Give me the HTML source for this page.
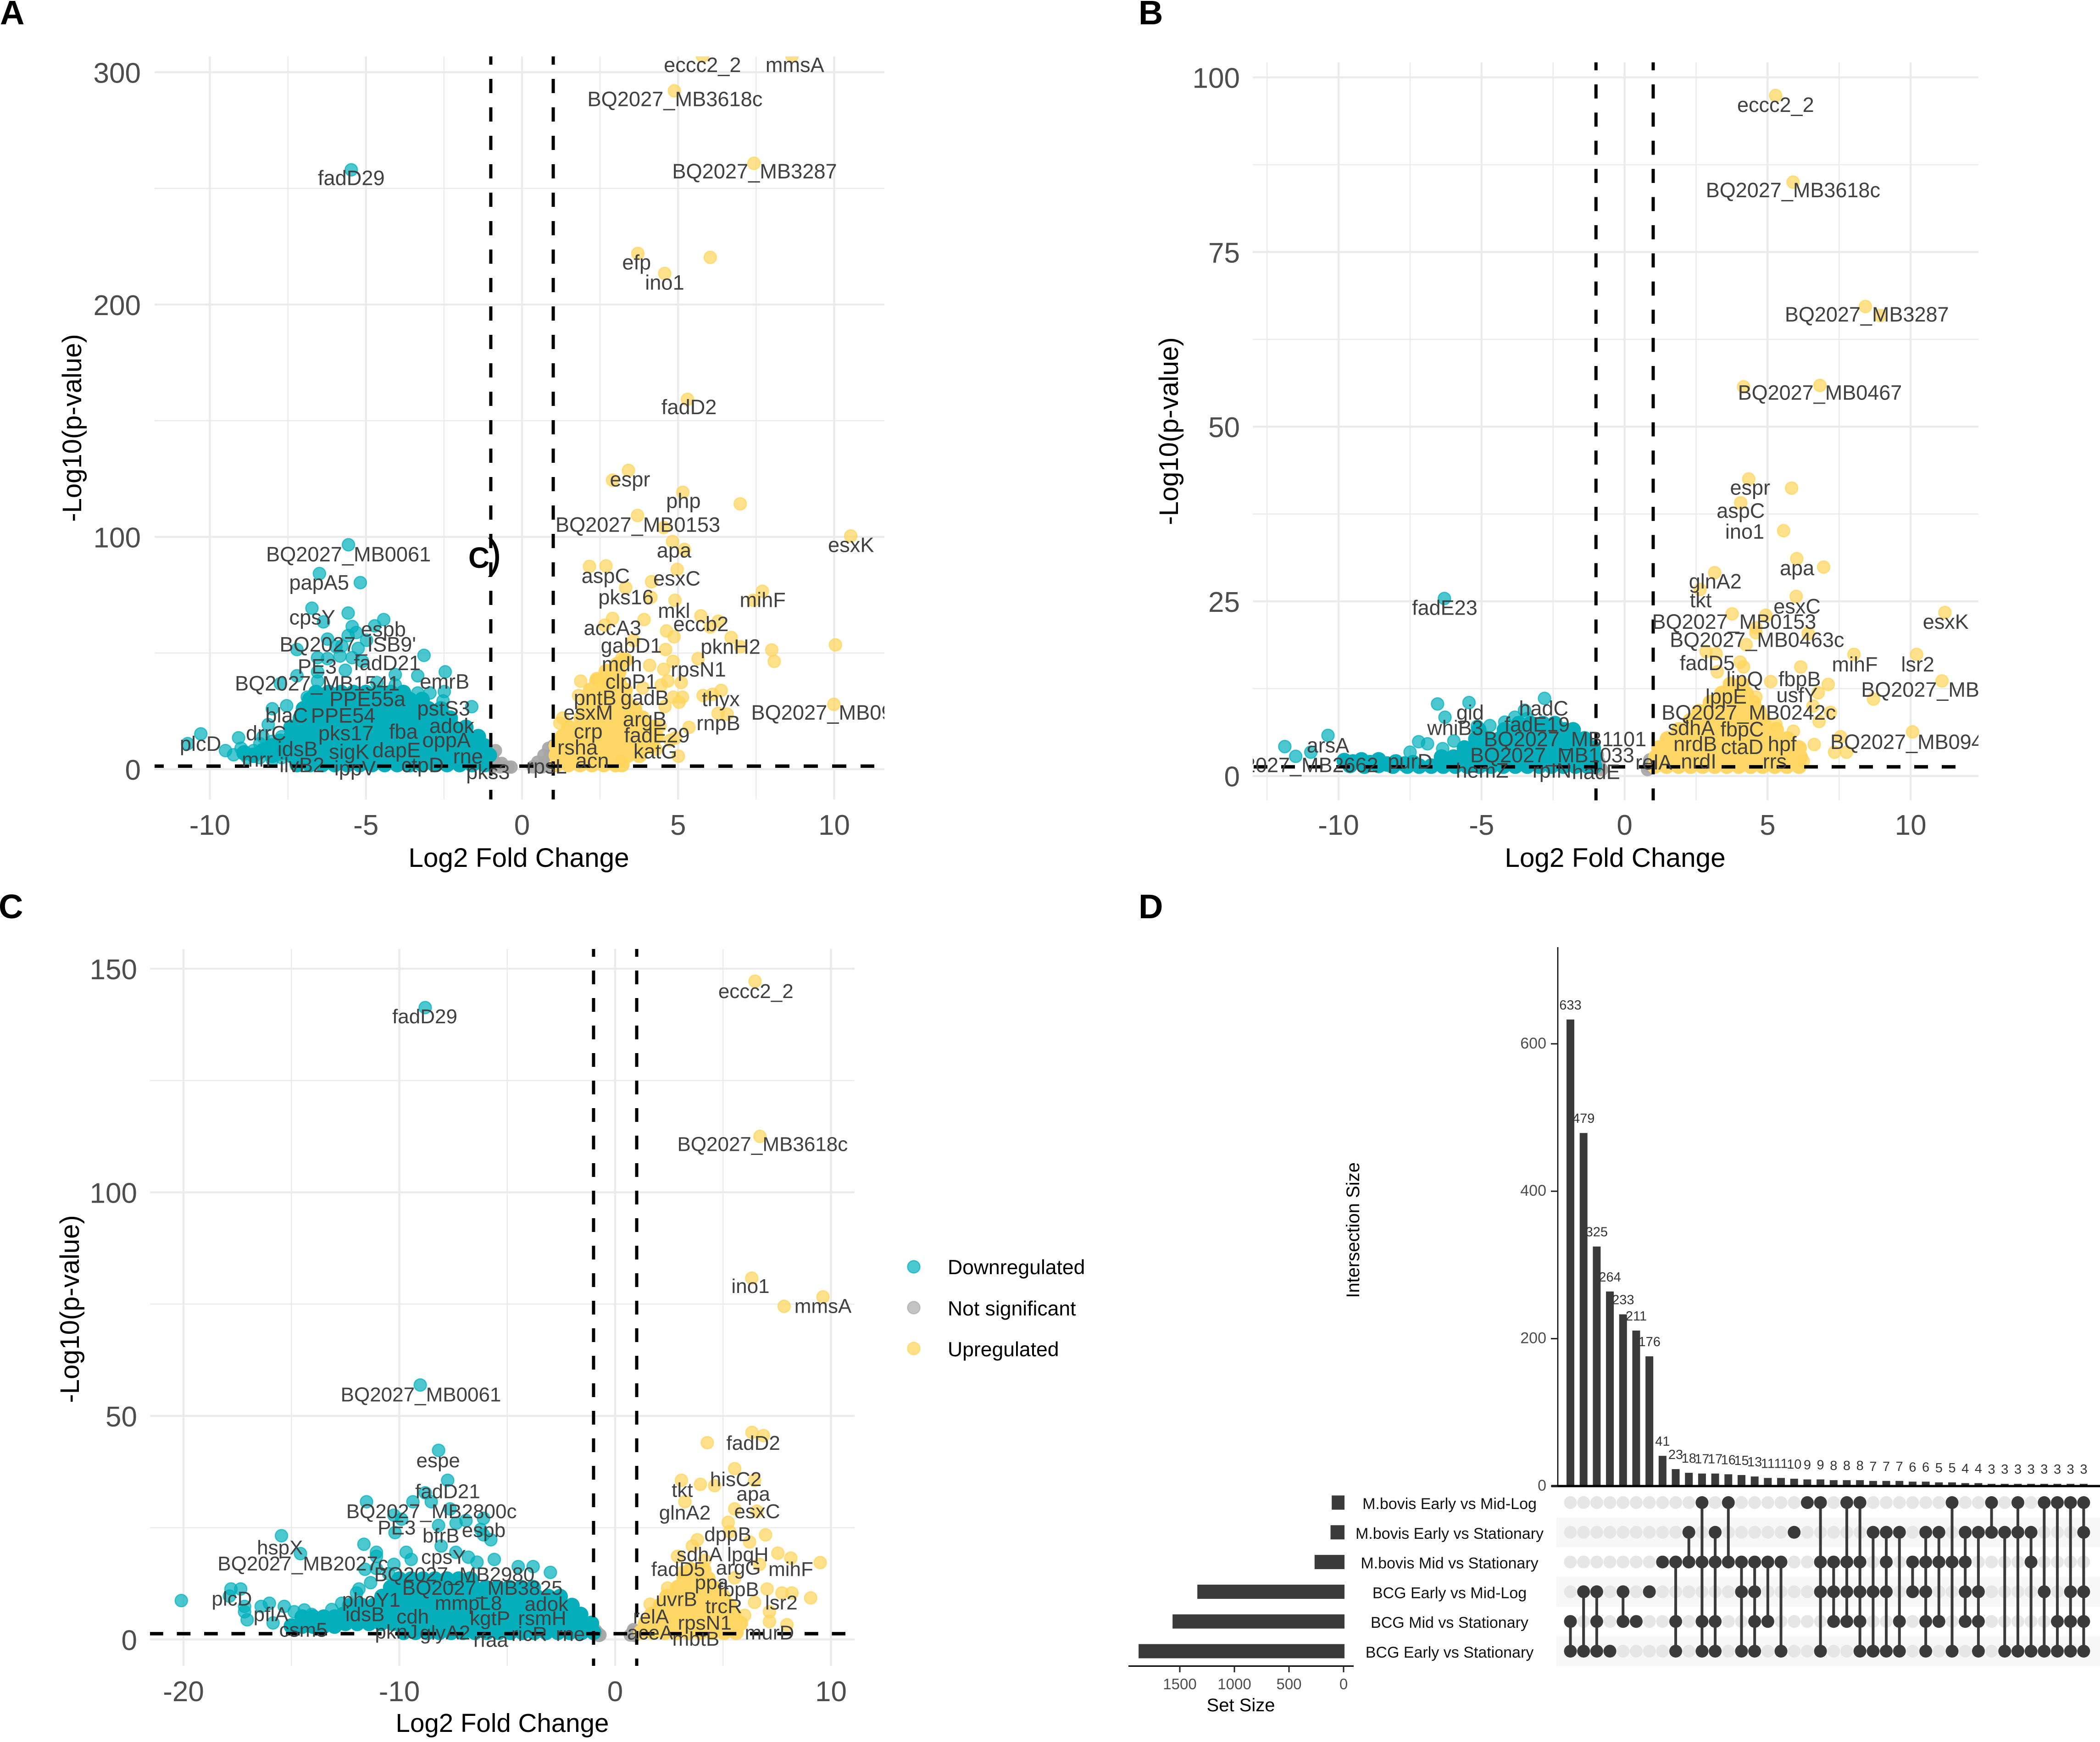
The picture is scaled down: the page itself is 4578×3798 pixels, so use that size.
<!DOCTYPE html>
<html lang="en">
<head>
<meta charset="utf-8">
<title>Volcano plots and UpSet plot</title>
<style>
html,body{margin:0;padding:0;background:#fff;}
body{width:4578px;height:3798px;overflow:hidden;}
svg{display:block;}
text{font-family:"Liberation Sans",Arial,sans-serif;}
</style>
</head>
<body>
<svg id="figure" xmlns="http://www.w3.org/2000/svg" width="4578" height="3798" viewBox="0 0 4578 3798">
  <rect x="0" y="0" width="4578" height="3798" fill="#fff"/>
  <text x="0" y="53" font-size="74" font-weight="700">A</text>
  <text x="2482" y="53" font-size="74" font-weight="700">B</text>
  <text x="-3" y="2002" font-size="74" font-weight="700">C</text>
  <text x="2482" y="2002" font-size="74" font-weight="700">D</text>
  <g>
    <circle cx="1992" cy="2762" r="13.5" fill="#00AFBB" fill-opacity="0.7" stroke="#00AFBB" stroke-opacity="0.7" stroke-width="2.5"/>
    <text x="2066" y="2778" font-size="44.5">Downregulated</text>
    <circle cx="1992" cy="2851" r="13.5" fill="#A9A9A9" fill-opacity="0.7" stroke="#A9A9A9" stroke-opacity="0.7" stroke-width="2.5"/>
    <text x="2066" y="2868" font-size="44.5">Not significant</text>
    <circle cx="1992" cy="2940" r="13.5" fill="#FFD45A" fill-opacity="0.7" stroke="#FFD45A" stroke-opacity="0.7" stroke-width="2.5"/>
    <text x="2066" y="2957" font-size="44.5">Upregulated</text>
  </g>
</svg>
<script>
/* ---------- Panel A values ---------- */
const panelADown=[[-5.47,258],[-5.56,96.6],[-6.49,84.2],[-5.18,80.3],[-6.73,69.3],[-5.57,67.2],[-6.36,63.4],[-4.43,64.4],[-4.72,61.7],[-5.44,61.4],[-5.31,58.8],[-5.57,57.5],[-6.23,56],[-4.98,55.5],[-5.77,53],[-5.25,52],[-7.21,51.5],[-5.96,52.7],[-3.14,49],[-5.44,48],[-6.55,48],[-6.23,47.6],[-5.83,48.7],[-5.11,46.4],[-5.66,42.6],[-6.55,41.9],[-2.46,41.9],[-4.06,40.7],[-3.34,40.2],[-7.21,40.2],[-7.74,36.8],[-6.55,37.9],[-4.65,37.3],[-4.06,36.2],[-6.88,31],[-3.34,32.8],[-2.95,32.8],[-2.49,33.4],[-2.53,29.4],[-1.61,26.9],[-8,26],[-7.54,27.3],[-8.13,19.2],[-10.29,15.2],[-10.71,11],[-9.08,13.5],[-9.24,6.2],[-9.5,8],[-9,9],[-8.8,5],[-8.6,8],[-8.4,11],[-8.4,5],[-8.1,8],[-8,12],[-8,4],[-7.7,9],[-7.7,5],[-7.7,14],[-8.3,14]];
const panelADownCore=[[-8.9,7],[-8.6,6],[-8.3,8],[-8,6],[-8,10],[-7.75,7],[-7.75,12],
[-7.2,2],[-6.8,2],[-6.4,2],[-6,2],[-5.6,2],[-5.2,2],[-4.8,2],[-4.4,2],[-4,2],[-3.6,2],[-3.2,2],[-2.8,2],[-2.4,2],[-2,2],[-1.6,2],[-1.2,2],
[-7.4,6],[-7,6],[-6.6,6],[-6.2,6],[-5.8,6],[-5.4,6],[-5,6],[-4.6,6],[-4.2,6],[-3.8,6],[-3.4,6],[-3,6],[-2.6,6],[-2.2,6],[-1.8,6],[-1.4,6],[-1.05,6],
[-7.6,10],[-7.2,10],[-6.8,10],[-6.4,10],[-6,10],[-5.6,10],[-5.2,10],[-4.8,10],[-4.4,10],[-4,10],[-3.6,10],[-3.2,10],[-2.8,10],[-2.4,10],[-2,10],[-1.6,10],[-1.2,10],
[-7.4,14],[-7,14],[-6.6,14],[-6.2,14],[-5.8,14],[-5.4,14],[-5,14],[-4.6,14],[-4.2,14],[-3.8,14],[-3.4,14],[-3,14],[-2.6,14],[-2.2,14],[-1.8,14],[-1.4,14],
[-7.4,18],[-7,18],[-6.6,18],[-6.2,18],[-5.8,18],[-5.4,18],[-5,18],[-4.6,18],[-4.2,18],[-3.8,18],[-3.4,18],[-3,18],[-2.6,18],[-2.2,18],[-1.8,18],
[-7.1,22],[-6.7,22],[-6.3,22],[-5.9,22],[-5.5,22],[-5.1,22],[-4.7,22],[-4.3,22],[-3.9,22],[-3.5,22],[-3.1,22],[-2.7,22],[-2.3,22],
[-7,26],[-6.6,26],[-6.2,26],[-5.8,26],[-5.4,26],[-5,26],[-4.6,26],[-4.2,26],[-3.8,26],[-3.4,26],[-3,26],[-2.6,26],
[-6.8,30],[-6.4,30],[-6,30],[-5.6,30],[-5.2,30],[-4.8,30],[-4.4,30],[-4,30],[-3.6,30],[-3.2,30],
[-6.6,33],[-6.2,33],[-5.8,33],[-5.4,33],[-5,33],[-4.6,33],[-4.2,33],[-3.8,33]];
const panelANeutral=[[-0.95,1],[-0.7,1],[-0.45,0.9],[-0.35,0.9],[-0.9,3.5],[-0.65,2.5],[-0.95,6],[-0.85,8],[0.35,1],[0.65,1],[0.9,1],[0.5,3],[0.75,3],[0.95,3.5],[0.7,6],[0.9,6],[0.85,9],[1,10]];
const panelAUp=[[5.78,307],[8.65,307],[4.88,292],[7.43,260.8],[6.03,220.3],[3.71,222],[4.57,213.4],[5.3,159.2],[3.41,128.6],[2.9,124.4],[5.15,119.2],[6.99,114.2],[3.7,109.2],[4.54,104],[4.82,98],[5.2,94.6],[10.53,100.4],[2.16,87.3],[2.69,87.5],[4.97,86],[4.15,80.7],[3.32,78.1],[4.13,74],[4.9,72.7],[7.7,76.6],[7.41,72.7],[2.9,64.9],[2.65,62],[3.91,64.4],[5.73,66],[6.29,63.7],[6.03,61.2],[4.63,59.5],[4.87,57],[6.7,56.7],[3.57,55.4],[4.6,51.5],[7,52.7],[8,51.3],[8.08,46.4],[10.04,53.5],[5.64,47.6],[4.84,46.4],[3.19,47.6],[4.09,44.7],[4.54,43],[1.88,37.9],[2.39,39],[2.56,37.3],[4.67,37.9],[5.1,37.3],[4.46,36.2],[1.81,31.7],[4.85,31],[5.14,31],[5.8,31.7],[6.1,32.2],[6.38,33.9],[5.03,28.8],[4.58,27],[9.99,27.9],[6.28,24],[6.57,23.7],[3.87,35],[5.35,18],[1.3,22],[1.21,19.8],[5.01,5.6],[3.19,3.4],[4.29,8.5],[4.75,12.4],[4.92,13.5],[4.42,18.6]];
const panelAUpCore=[[1.1,2],[1.48,2],[1.86,2],[2.24,2],[2.62,2],[3,2],[3.2,2],
[1.1,6],[1.48,6],[1.86,6],[2.24,6],[2.62,6],[3,6],[3.38,6],[3.76,6],
[1.1,10],[1.48,10],[1.86,10],[2.24,10],[2.62,10],[3,10],[3.38,10],[3.76,10],[4.1,10],
[1.3,14],[1.68,14],[2.06,14],[2.44,14],[2.82,14],[3.2,14],[3.58,14],[3.96,14],[4.3,14],
[1.5,18],[1.88,18],[2.26,18],[2.64,18],[3.02,18],[3.4,18],[3.78,18],[4.2,18],
[1.9,22],[2.28,22],[2.66,22],[3.04,22],[3.42,22],[3.85,22],
[2,26],[2.38,26],[2.76,26],[3.14,26],[3.6,26],
[2.1,30],[2.48,30],[2.86,30],[3.3,30],
[2.2,34],[2.58,34],[2.96,34],[3.3,34],
[2.4,38],[2.75,38],[3.1,38],
[2.7,42],[3.1,42],
[3.05,45],[3.3,47]];
const panelALabels=[["eccc2_2",5.78,303],["mmsA",8.74,303],["BQ2027_MB3618c",4.9,288.3],["BQ2027_MB3287",7.45,257.2],["fadD29",-5.47,254.3],["efp",3.67,218],["ino1",4.57,209.3],["fadD2",5.35,155.7],["espr",3.46,124.6],["php",5.17,115.3],["BQ2027_MB0153",3.71,105],["apa",4.87,94],["esxK",10.54,96.3],["BQ2027_MB0061",-5.56,92.3],["aspC",2.68,83],["esxC",4.96,81.9],["papA5",-6.5,80.2],["pks16",3.33,73.8],["mihF",7.71,72.7],["mkl",4.87,68],["cpsY",-6.72,65.2],["accA3",2.9,60.6],["eccb2",5.73,62.3],["espb",-4.44,60],["gabD1",3.5,53],["pknH2",6.68,52.5],["BQ2027_ISB9'",-5.58,53.5],["PE3",-6.56,44],["fadD21",-4.32,45.5],["mdh",3.2,45],["rpsN1",5.65,42.7],["emrB",-2.48,37.5],["BQ2027_MB1541",-6.56,36.7],["clpP1",3.5,37.5],["PPE55a",-4.95,30],["pntB",2.34,30.5],["gadB",3.93,30.5],["thyx",6.37,30],["pstS3",-2.51,26],["BQ2027_MB0947",9.98,24.2],["esxM",2.12,24.2],["rnpB",6.29,19.6],["blaC",-7.54,23],["PPE54",-5.73,22.9],["argB",3.93,21.3],["adok",-2.25,18.5],["crp",2.12,16.1],["fadE29",4.32,14.4],["drrC",-8.2,15.3],["pks17",-5.64,15.3],["fba",-3.8,16],["oppA",-2.42,12.3],["plcD",-10.3,10.8],["rsha",1.78,9.2],["idsB",-7.19,8.5],["dapE",-4.02,8],["sigK",-5.54,7.3],["katG",4.27,7.5],["rne",-1.73,5.3],["mrr",-8.48,3.9],["ilvB2",-7.05,1.6],["ippV",-5.35,0.2],["ctpD",-3.19,1.6],["acn",2.25,3.5],["rpsL",0.79,1],["pks3",-1.09,-1.4]];
const panelAXMajor=[-10,-5,0,5,10];
const panelAXMinor=[-7.5,-2.5,2.5,7.5];
const panelAYMajor=[0,100,200,300];
const panelAYMinor=[50,150,250];

/* ---------- Panel B values ---------- */
const panelBDown=[[-6.3,25.4],[-2.8,11.1],[-6.54,10.3],[-5.44,10.5],[-6.28,8.4],[-3.5,9.4],[-3.84,8.4],[-3.41,8.2],[-4.19,7.7],[-4.71,7.2],[-5.15,7.1],[-7.2,4.9],[-6.89,4.6],[-5.97,5],[-10.37,5.8],[-11.88,4.2],[-11.5,2.8],[-10.97,3.4],[-7.5,3.4],[-6.36,3.9],[-5.15,4.5]];
const panelBDownCore=[[-9.8,2.2],[-9.5,2],[-9.2,2.3],[-8.9,1.9],[-8.6,2.3],[-8.3,1.7],[-8,2],[-7.7,1.7],[-7.4,1.9],[-9.6,1.5],[-9.1,1.4],[-8.6,1.5],[-8.1,1.4],
[-7.6,1.4],[-7.18,1.4],[-6.76,1.4],[-6.34,1.4],[-5.92,1.4],[-5.5,1.4],[-5.08,1.4],[-4.66,1.4],[-4.24,1.4],[-3.82,1.4],[-3.4,1.4],[-2.98,1.4],[-2.56,1.4],[-2.14,1.4],[-1.72,1.4],[-1.3,1.4],[-1.05,1.4],
[-6.4,2.7],[-5.98,2.7],[-5.56,2.7],[-5.14,2.7],[-4.72,2.7],[-4.3,2.7],[-3.88,2.7],[-3.46,2.7],[-3.04,2.7],[-2.62,2.7],[-2.2,2.7],[-1.78,2.7],[-1.36,2.7],[-1.05,2.7],
[-5.6,4],[-5.18,4],[-4.76,4],[-4.34,4],[-3.92,4],[-3.5,4],[-3.08,4],[-2.66,4],[-2.24,4],[-1.82,4],[-1.4,4],[-1.1,4],
[-5.2,5.3],[-4.78,5.3],[-4.36,5.3],[-3.94,5.3],[-3.52,5.3],[-3.1,5.3],[-2.68,5.3],[-2.26,5.3],[-1.84,5.3],[-1.4,5.3],
[-5.1,6.6],[-4.2,6.6],[-3.78,6.6],[-3.36,6.6],[-2.94,6.6],[-2.52,6.6],[-2.1,6.6],[-1.8,6.6],
[-3.7,7.5],[-3.28,7.5],[-2.86,7.5],[-2.44,7.5]];
const panelBNeutral=[[-0.95,3],[-0.9,2],[-0.85,1.2],[-0.8,0.9],[0.8,0.9],[0.85,1.4],[0.88,2.3]];
const panelBUp=[[5.28,97.4],[5.89,85],[8.42,67.2],[8.94,65.9],[4.16,55.7],[6.83,55.9],[4.34,42.5],[5.84,41.2],[4.06,39.1],[5.56,35.1],[6.02,31.1],[6.96,29.9],[3.15,29.1],[2.64,26.7],[6,25.7],[3.76,23.2],[4.94,23],[11.2,23.4],[4.59,21.2],[4.59,20.5],[6.42,20.4],[4.25,18.8],[2.85,17.8],[3.2,17.5],[8.02,17.4],[10.21,17.4],[4.04,16.3],[4.16,15.6],[3.24,14.9],[6.16,15.6],[5.11,13.5],[7.12,13.1],[6.77,11.9],[11.1,13.6],[8.7,11],[4.59,11.3],[6.59,10],[7.2,9.1],[6.8,7.8],[5.29,7.4],[10.07,6.3],[7.55,5.6],[6.63,4.5],[7.34,3.4],[7.76,3.4],[5.9,6.4],[6.25,2.1]];
const panelBUpCore=[[1.05,1.4],[1.47,1.4],[1.89,1.4],[2.31,1.4],[2.73,1.4],[3.15,1.4],[3.57,1.4],[3.99,1.4],[4.41,1.4],[4.83,1.4],[5.25,1.4],[5.67,1.4],[6.1,1.4],
[1.1,2.7],[1.52,2.7],[1.94,2.7],[2.36,2.7],[2.78,2.7],[3.2,2.7],[3.62,2.7],[4.04,2.7],[4.46,2.7],[4.88,2.7],[5.3,2.7],[5.72,2.7],[6.14,2.7],
[1.2,4],[1.62,4],[2.04,4],[2.46,4],[2.88,4],[3.3,4],[3.72,4],[4.14,4],[4.56,4],[4.98,4],[5.4,4],[5.82,4],[6.1,4],
[1.5,5.3],[1.92,5.3],[2.34,5.3],[2.76,5.3],[3.18,5.3],[3.6,5.3],[4.02,5.3],[4.44,5.3],[4.86,5.3],[5.28,5.3],[5.7,5.3],
[1.9,6.6],[2.32,6.6],[2.74,6.6],[3.16,6.6],[3.58,6.6],[4,6.6],[4.42,6.6],[4.84,6.6],[5.3,6.6],
[2.3,7.9],[2.72,7.9],[3.14,7.9],[3.56,7.9],[3.98,7.9],[4.4,7.9],[4.85,7.9],
[2.6,9.2],[3.02,9.2],[3.44,9.2],[3.86,9.2],[4.28,9.2],[4.7,9.2],
[3,10.5],[3.42,10.5],[3.84,10.5],[4.26,10.5],[4.5,10.5],
[3.4,11.8],[3.82,11.8],[4.25,11.8],
[3.7,13.1],[4.1,13.1]];
const panelBLabels=[["eccc2_2",5.28,96],["BQ2027_MB3618c",5.89,83.8],["BQ2027_MB3287",8.47,66],["BQ2027_MB0467",6.83,54.8],["espr",4.39,41.2],["aspC",4.06,37.9],["ino1",4.2,34.9],["apa",6.03,29.7],["glnA2",3.17,27.8],["tkt",2.66,25.1],["esxC",6.03,24.2],["fadE23",-6.29,24],["BQ2027_MB0153",3.83,22],["esxK",11.23,22],["BQ2027_MB0463c",4.63,19.4],["fadD5",2.89,16.1],["mihF",8.05,15.9],["lsr2",10.25,15.9],["lipQ",4.2,13.8],["fbpB",6.12,13.8],["usfY",6.03,11.5],["BQ2027_MB0940",11.14,12.3],["lppE",3.55,11.3],["hadC",-2.83,9.6],["BQ2027_MB0242c",4.34,9],["gid",-5.4,9],["fadE19",-3.06,7.3],["sdhA",2.33,6.8],["fbpC",4.11,6.6],["whiB3",-5.92,6.8],["BQ2027_MB1101",-2.08,5.2],["hpf",5.51,4.5],["arsA",-10.37,4.3],["nrdB",2.47,4.5],["ctaD",4.11,4.1],["BQ2027_MB0947",10.06,4.8],["BQ2027_MB1033",-2.53,2.9],["rrs",5.25,2],["relA",1.02,1.9],["nrdI",2.59,2],["purD",-7.5,2],["BQ2027_MB2662",-11.48,1.5],["hemZ",-4.98,0.7],["rpIN",-2.54,0.7],["hadE",-1,0.5]];
const panelBXMajor=[-10,-5,0,5,10];
const panelBXMinor=[-12.5,-7.5,-2.5,2.5,7.5];
const panelBYMajor=[0,25,50,75,100];
const panelBYMinor=[12.5,37.5,62.5,87.5];

/* ---------- Panel C values ---------- */
const panelCDown=[[-8.8,141.3],[-9.03,56.9],[-8.18,42.3],[-7.76,35.6],[-9.37,30.8],[-11.52,30.8],[-8.52,30.8],[-8.8,32.8],[-7.65,29.2],[-10.25,27.8],[-9.9,26.9],[-8.18,25.5],[-7.37,26],[-6.91,26.6],[-6.1,27.1],[-6.23,24.6],[-5.76,22.3],[-6.1,23.4],[-10.2,23.9],[-8.06,20.9],[-15.46,23.2],[-11.64,21.3],[-14.58,19.2],[-11.06,19.5],[-11.06,18.6],[-9.68,19.5],[-9.45,17.9],[-7.38,19.5],[-6.8,18.4],[-6.4,17.3],[-5.6,17.9],[-10.25,16.8],[-4.49,16.3],[-3.8,16.3],[-3,15],[-11.59,15.7],[-11.07,15.9],[-10.49,14.7],[-11.33,12.7],[-11.87,11.3],[-17.8,11.3],[-17.35,11.3],[-17.87,9.7],[-20.1,8.7],[-17.17,7.4],[-17.17,6.2],[-17.05,4.4],[-16.4,7.4],[-16.02,8.1],[-15.33,7.4],[-15.85,3.7],[-14.87,6.2],[-14.4,6.6],[-14.06,5.6],[-13.6,4.9],[-13.13,6.7],[-12.67,8.1],[-11.98,10.4]];
const panelCDownCore=[[-15,3],[-14.5,3],[-14,3],[-13.5,3],[-13,3],[-14.5,5],[-14,5],[-13.5,5],[-13,5],
[-9.8,1.6],[-9.25,1.6],[-8.7,1.6],[-8.15,1.6],[-7.6,1.6],[-7.05,1.6],[-6.5,1.6],[-5.95,1.6],[-5.4,1.6],[-4.85,1.6],[-4.3,1.6],[-3.75,1.6],[-3.2,1.6],[-2.65,1.6],[-2.1,1.6],[-1.55,1.6],[-1,1.6],
[-12.5,3.6],[-11.95,3.6],[-11.4,3.6],[-10.85,3.6],[-10.3,3.6],[-9.75,3.6],[-9.2,3.6],[-8.65,3.6],[-8.1,3.6],[-7.55,3.6],[-7,3.6],[-6.45,3.6],[-5.9,3.6],[-5.35,3.6],[-4.8,3.6],[-4.25,3.6],[-3.7,3.6],[-3.15,3.6],[-2.6,3.6],[-2.05,3.6],[-1.5,3.6],[-1.1,3.6],
[-12.6,5.6],[-12.05,5.6],[-11.5,5.6],[-10.95,5.6],[-10.4,5.6],[-9.85,5.6],[-9.3,5.6],[-8.75,5.6],[-8.2,5.6],[-7.65,5.6],[-7.1,5.6],[-6.55,5.6],[-6,5.6],[-5.45,5.6],[-4.9,5.6],[-4.35,5.6],[-3.8,5.6],[-3.25,5.6],[-2.7,5.6],[-2.15,5.6],[-1.6,5.6],
[-12.3,7.6],[-11.75,7.6],[-11.2,7.6],[-10.65,7.6],[-10.1,7.6],[-9.55,7.6],[-9,7.6],[-8.45,7.6],[-7.9,7.6],[-7.35,7.6],[-6.8,7.6],[-6.25,7.6],[-5.7,7.6],[-5.15,7.6],[-4.6,7.6],[-4.05,7.6],[-3.5,7.6],[-2.95,7.6],[-2.4,7.6],[-2,7.6],
[-10.8,9.6],[-10.25,9.6],[-9.7,9.6],[-9.15,9.6],[-8.6,9.6],[-8.05,9.6],[-7.5,9.6],[-6.95,9.6],[-6.4,9.6],[-5.85,9.6],[-5.3,9.6],[-4.75,9.6],[-4.2,9.6],[-3.65,9.6],[-3.1,9.6],[-2.55,9.6],
[-10.4,11.6],[-9.85,11.6],[-9.3,11.6],[-8.75,11.6],[-8.2,11.6],[-7.65,11.6],[-7.1,11.6],[-6.55,11.6],[-6,11.6],[-5.45,11.6],[-4.9,11.6],[-4.35,11.6],[-3.8,11.6],
[-10,13.5],[-9.45,13.5],[-8.9,13.5],[-8.35,13.5],[-7.8,13.5],[-7.25,13.5],[-6.7,13.5]];
const panelCNeutral=[[-0.9,2],[-0.8,1.4],[-0.7,1],[-0.75,0.9],[0.7,1],[0.8,1.6],[0.85,2.2],[0.9,0.9]];
const panelCUp=[[6.48,147.2],[6.71,112.5],[6.33,80.8],[7.83,74.5],[9.63,76.6],[6.34,46.3],[6.87,45.6],[4.27,44],[5.54,38.2],[6.46,35.6],[3.07,35.6],[4.61,34.4],[3.95,34.7],[3.23,30.8],[5.54,29.2],[6.57,28.7],[5.24,26.2],[5.31,24.1],[6.97,23.4],[3.81,22.3],[6.23,21.8],[3.58,20.9],[7.54,19.3],[8.14,18.2],[9.5,17.2],[2.89,18.6],[4.15,17.7],[6.69,16.8],[3.12,15],[5.54,13.8],[2.43,11.5],[7.04,11.3],[7.73,10.4],[8.19,10.4],[9.06,9.3],[6.46,8.3],[7.15,6.2],[7.15,4],[7.96,3.3],[6,5.4],[1.62,7.9]];
const panelCUpCore=[[1.2,1.6],[1.75,1.6],[2.3,1.6],[2.85,1.6],[3.4,1.6],[3.95,1.6],[4.5,1.6],[5.05,1.6],[5.6,1.6],
[1.4,3.6],[1.95,3.6],[2.5,3.6],[3.05,3.6],[3.6,3.6],[4.15,3.6],[4.7,3.6],[5.25,3.6],[5.8,3.6],
[1.7,5.6],[2.25,5.6],[2.8,5.6],[3.35,5.6],[3.9,5.6],[4.45,5.6],[5,5.6],[5.5,5.6],
[2.1,7.6],[2.65,7.6],[3.2,7.6],[3.75,7.6],[4.3,7.6],[4.85,7.6],[5.3,7.6],
[2.4,9.6],[2.95,9.6],[3.5,9.6],[4.05,9.6],[4.6,9.6],[5,9.6],
[2.9,11.6],[3.45,11.6],[4,11.6],[4.55,11.6],
[3.2,13.6],[3.75,13.6],[4.3,13.6],
[3.5,15.6],[4.1,15.6]];
const panelCLabels=[["eccc2_2",6.52,144.9],["fadD29",-8.82,139.3],["BQ2027_MB3618c",6.83,110.7],["ino1",6.27,79],["mmsA",9.63,74.5],["BQ2027_MB0061",-9,54.7],["fadD2",6.4,43.9],["espe",-8.2,40],["hisC2",5.59,35.8],["fadD21",-7.76,33.1],["tkt",3.11,33.4],["apa",6.4,32.5],["BQ2027_MB2800c",-8.51,28.6],["glnA2",3.23,28.3],["esxC",6.58,28.6],["PE3",-10.12,25],["espb",-6.09,24.4],["bfrB",-8.07,23.2],["dppB",5.22,23.5],["hspX",-15.53,20.5],["sdhA",3.91,19],["lpqH",6.15,19],["BQ2027_MB2027c",-14.47,16.9],["cpsY",-7.95,18.4],["argG",5.71,16],["fadD5",2.92,15.7],["mihF",8.14,15.7],["BQ2027_MB2980",-7.45,14.5],["ppa",4.47,12.7],["BQ2027_MB3825",-6.15,11.5],["fbpB",5.71,11.2],["plcD",-17.76,9.1],["phoY1",-11.3,8.8],["lsr2",7.7,8.2],["uvrB",2.84,9],["mmpL8",-6.8,8.1],["adok",-3.18,7.9],["trcR",5.03,7.4],["pflA",-15.95,5.6],["idsB",-11.59,5.6],["cdh",-9.38,5.1],["kgtP",-5.8,4.7],["rsmH",-3.38,4.7],["relA",1.66,5.1],["rpsN1",4.15,3.7],["csm5",-14.45,2.1],["pknJ",-10.14,1.7],["glyA2",-7.88,1.5],["aceA",1.62,1.5],["ricR",-3.98,1.2],["rne",-2.07,1.2],["murD",7.15,1.5],["rfaa",-5.76,-0.15],["mbtB",3.74,0.1]];
const panelCXMajor=[-20,-10,0,10];
const panelCXMinor=[-15,-5,5];
const panelCYMajor=[0,50,100,150];
const panelCYMinor=[25,75,125];

/* ---------- Panel D values ---------- */
const upsetCounts=[633,479,325,264,233,211,176,41,23,18,17,17,16,15,13,11,11,10,9,9,8,8,8,7,7,7,6,6,5,5,4,4,3,3,3,3,3,3,3,3];
const upsetSetNames=["M.bovis Early vs Mid-Log","M.bovis Early vs Stationary","M.bovis Mid vs Stationary","BCG Early vs Mid-Log","BCG Mid vs Stationary","BCG Early vs Stationary"];
const upsetSetSizes=[117,128,274,1348,1575,1886];
const upsetMembership=[[4,5],[3,5],[3,4,5],[5],[3,4],[4],[3],[2],[2,4,5],[1,2],[0,2,4,5],[1,2,4,5],[0,2],[2,3,5],[2,3,4,5],[2,4],[2,5],[1],[0],[0,2,3,5],[2,3,4],[0,2,3,4],[0,2,3,4,5],[1,3,5],[1,2,3,5],[1,4,5],[2,3],[1,2,3,4,5],[1,2,4],[0,2,5],[1,2,3,4],[1,3,4,5],[0,1],[1,5],[0,1,5],[1,2,5],[0,3,5],[0,4,5],[0,3,4,5],[0,1,3,4,5]];
const upsetYTicks=[0,200,400,600];
const upsetSizeTicks=[0,500,1000,1500];

/* ---------- Drawing ---------- */
const NS='http://www.w3.org/2000/svg';
const figure=document.getElementById('figure');
function make(parent,tag,attrs,txt){
  const el=document.createElementNS(NS,tag);
  for(const k in attrs){el.setAttribute(k,attrs[k]);}
  if(txt!==undefined){el.textContent=txt;}
  parent.appendChild(el);
  return el;
}
const defs=make(figure,'defs',{});
const COLORS={down:'#00AFBB',neutral:'#A9A9A9',up:'#FFD45A'};
const CORE_COLORS={down:'#06AEBC',neutral:'#A6A6A6',up:'#FFD766'};

function drawVolcano(p){
  const xPos=v=>p.zeroX+v*p.unitX;
  const yPos=v=>p.zeroY-v*p.unitY;
  const root=make(figure,'g',{});
  
  
  const clip=make(defs,'clipPath',{id:p.id+'-clip'});
  make(clip,'rect',{x:p.left,y:p.top,width:p.right-p.left,height:p.bottom-p.top});
  const grid=make(root,'g',{});
  
  
  p.xMinor.forEach(v=>{
    const el=make(grid,'line',{x1:xPos(v),x2:xPos(v),y1:p.top,y2:p.bottom,stroke:'#EBEBEB','stroke-width':2.5});
    
    
  });
  p.yMinor.forEach(v=>{
    const el=make(grid,'line',{x1:p.left,x2:p.right,y1:yPos(v),y2:yPos(v),stroke:'#EBEBEB','stroke-width':2.5});
    
    
  });
  p.xMajor.forEach(v=>{
    const el=make(grid,'line',{x1:xPos(v),x2:xPos(v),y1:p.top,y2:p.bottom,stroke:'#EBEBEB','stroke-width':4.5});
    
    
    const lab=make(root,'text',{x:xPos(v),y:p.xTickBase,'font-size':62,fill:'#4d4d4d','text-anchor':'middle'},String(v));
    
    
  });
  p.yMajor.forEach(v=>{
    const el=make(grid,'line',{x1:p.left,x2:p.right,y1:yPos(v),y2:yPos(v),stroke:'#EBEBEB','stroke-width':4.5});
    
    
    const lab=make(root,'text',{x:p.yTickRight,y:yPos(v)+23,'font-size':62,fill:'#4d4d4d','text-anchor':'end'},String(v));
    
    
  });
  const marks=make(root,'g',{'clip-path':'url(#'+p.id+'-clip)'});
  
  
  p.neutral.forEach(pt=>{
    const el=make(marks,'circle',{cx:xPos(pt[0]),cy:yPos(pt[1]),r:14.5,fill:CORE_COLORS.neutral,'fill-opacity':0.92});
    
    
  });
  [['down',p.downCore,p.down],['up',p.upCore,p.up]].forEach(group=>{
    group[1].forEach(pt=>{
      const el=make(marks,'circle',{cx:xPos(pt[0]),cy:yPos(pt[1]),r:17,fill:CORE_COLORS[group[0]]});
      
      
    });
    group[2].forEach(pt=>{
      const el=make(marks,'circle',{cx:xPos(pt[0]),cy:yPos(pt[1]),r:13.5,fill:COLORS[group[0]],'fill-opacity':0.7,stroke:COLORS[group[0]],'stroke-opacity':0.7,'stroke-width':2.5});
      
      
    });
  });
  const h=make(marks,'line',{x1:p.hStart,x2:p.hEnd,y1:yPos(1.3),y2:yPos(1.3),stroke:'#000','stroke-width':7.5,'stroke-dasharray':p.dash+' '+p.dash});
  
  
  [-1,1].forEach(v=>{
    const el=make(marks,'line',{x1:xPos(v),x2:xPos(v),y1:p.vStart,y2:p.bottom,stroke:'#000','stroke-width':7,'stroke-dasharray':p.vDash+' '+p.vDash});
    
    
  });
  p.labels.forEach(item=>{
    const el=make(marks,'text',{x:xPos(item[1]),y:yPos(item[2])+14.5,'font-size':p.labelSize,fill:'#404040','text-anchor':'middle'},item[0]);
    
    
  });
  const xt=make(root,'text',{x:p.xTitleX,y:p.xTitleY,'font-size':p.titleSize,fill:'#000','text-anchor':'middle'},'Log2 Fold Change');
  
  
  const yt=make(root,'text',{transform:'translate('+p.yTitleX+' '+p.yTitleY+') rotate(-90)','font-size':58,fill:'#000','text-anchor':'middle'},'-Log10(p-value)');
  
  
}

drawVolcano({id:'panel-a',left:337,right:1928,top:123,bottom:1743,zeroX:1138,unitX:68.05,zeroY:1677,unitY:5.065,
  down:panelADown,downCore:panelADownCore,neutral:panelANeutral,up:panelAUp,upCore:panelAUpCore,labels:panelALabels,labelSize:45.2,
  xMajor:panelAXMajor,xMinor:panelAXMinor,yMajor:panelAYMajor,yMinor:panelAYMinor,
  hStart:326,hEnd:1906,dash:31,vStart:110,vDash:31,xTickBase:1820,yTickRight:307,
  xTitleX:1131,xTitleY:1890,titleSize:58.5,yTitleX:177,yTitleY:933});
drawVolcano({id:'panel-b',left:2731,right:4313,top:136,bottom:1745,zeroX:3541.6,unitX:62.35,zeroY:1691.7,unitY:15.23,
  down:panelBDown,downCore:panelBDownCore,neutral:panelBNeutral,up:panelBUp,upCore:panelBUpCore,labels:panelBLabels,labelSize:45,
  xMajor:panelBXMajor,xMinor:panelBXMinor,yMajor:panelBYMajor,yMinor:panelBYMinor,
  hStart:2733,hEnd:4292,dash:30,vStart:122.6,vDash:30.7,xTickBase:1820,yTickRight:2703,
  xTitleX:3521,xTitleY:1890,titleSize:58.5,yTitleX:2568,yTitleY:940});
drawVolcano({id:'panel-c',left:327,right:1863,top:2069,bottom:3632,zeroX:1341,unitX:47.05,zeroY:3574.5,unitY:9.75,
  down:panelCDown,downCore:panelCDownCore,neutral:panelCNeutral,up:panelCUp,upCore:panelCUpCore,labels:panelCLabels,labelSize:44,
  xMajor:panelCXMajor,xMinor:panelCXMinor,yMajor:panelCYMajor,yMinor:panelCYMinor,
  hStart:326,hEnd:1843,dash:29.75,vStart:2056,vDash:30,xTickBase:3709,yTickRight:299,
  xTitleX:1095,xTitleY:3776,titleSize:56.5,yTitleX:172,yTitleY:2854});

/* Stray "C)" annotation inside panel A */
const strayC=make(figure,'text',{x:1021,y:1238,'font-size':64,'font-weight':700,fill:'#000'},'C');


const strayParen=make(figure,'text',{x:1063,y:1239,'font-size':92,fill:'#000'},')');



/* UpSet plot */
const upsetRoot=make(figure,'g',{});


const colX=i=>3423.5+i*28.69;
const rowY=i=>3276+i*64.8;
const countY=v=>3240-v*1.607;
const sizeX=v=>2931-v*0.238;
const DARK='#3a3a3a';

[1,3,5].forEach(r=>{
  const el=make(upsetRoot,'rect',{x:3393,y:rowY(r)-32.4,width:1185,height:64.8,fill:'#f7f7f7'});
  
  
});
upsetCounts.forEach((v,i)=>{
  const bar=make(upsetRoot,'rect',{x:colX(i)-8.5,y:countY(v),width:17,height:3240-countY(v),fill:DARK});
  
  
  const lab=make(upsetRoot,'text',{x:colX(i),y:countY(v)-22,'font-size':29,fill:'#333','text-anchor':'middle'},String(v));
  
  
  upsetSetNames.forEach((name,r)=>{
    const dot=make(upsetRoot,'circle',{cx:colX(i),cy:rowY(r),r:14,fill:upsetMembership[i].includes(r)?DARK:'#e6e6e6'});
    
    
  });
  const rows=upsetMembership[i];
  if(rows.length>1){
    const link=make(upsetRoot,'line',{x1:colX(i),x2:colX(i),y1:rowY(Math.min(...rows)),y2:rowY(Math.max(...rows)),stroke:DARK,'stroke-width':6});
    
    
  }
});
const upsetYAxis=make(upsetRoot,'line',{x1:3396,x2:3396,y1:2065,y2:3240,stroke:'#000','stroke-width':2.5});


const upsetXAxis=make(upsetRoot,'line',{x1:3382,x2:4578,y1:3240,y2:3240,stroke:'#000','stroke-width':5});


upsetYTicks.forEach(v=>{
  const t=make(upsetRoot,'line',{x1:3381,x2:3396,y1:countY(v),y2:countY(v),stroke:'#222','stroke-width':3});
  
  
  const lab=make(upsetRoot,'text',{x:3371,y:countY(v)+10,'font-size':34,fill:'#4d4d4d','text-anchor':'end'},String(v));
  
  
});
const upsetYTitle=make(upsetRoot,'text',{transform:'translate(2963 2682) rotate(-90)','font-size':40,fill:'#000','text-anchor':'middle'},'Intersection Size');


upsetSetNames.forEach((name,r)=>{
  const bar=make(upsetRoot,'rect',{x:sizeX(upsetSetSizes[r]),y:rowY(r)-15.5,width:2931-sizeX(upsetSetSizes[r]),height:31,fill:DARK});
  
  
  const lab=make(upsetRoot,'text',{x:3160,y:rowY(r)+14,'font-size':34,fill:'#111','text-anchor':'middle'},name);
  
  
});
const sizeAxis=make(upsetRoot,'line',{x1:2460,x2:2951,y1:3632.5,y2:3632.5,stroke:'#000','stroke-width':3});


upsetSizeTicks.forEach(v=>{
  const t=make(upsetRoot,'line',{x1:sizeX(v)-2,x2:sizeX(v)-2,y1:3632,y2:3646,stroke:'#222','stroke-width':3});
  
  
  const lab=make(upsetRoot,'text',{x:sizeX(v)-2,y:3683,'font-size':33,fill:'#4d4d4d','text-anchor':'middle'},String(v));
  
  
});
const sizeTitle=make(upsetRoot,'text',{x:2705,y:3731,'font-size':40,fill:'#000','text-anchor':'middle'},'Set Size');


</script>
</body>
</html>
